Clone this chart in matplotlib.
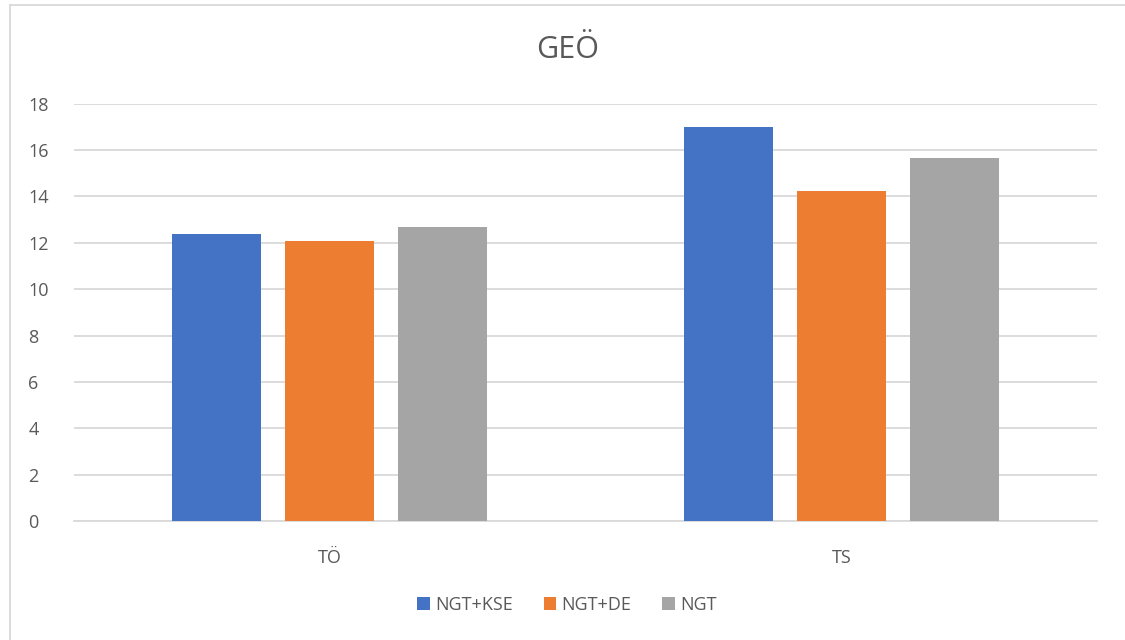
import matplotlib.pyplot as plt
from matplotlib.lines import Line2D
import numpy as np

# Werte je Gruppe
kategorien = ["TÖ", "TS"]
reihen = ["NGT+KSE", "NGT+DE", "NGT"]
ngt_kse = [12.4, 17.0]
ngt_de = [12.07, 14.25]
ngt = [12.67, 15.66]
farben = ["#4472C4", "#ED7D31", "#A5A5A5"]
y_ticks = [0, 2, 4, 6, 8, 10, 12, 14, 16, 18]

plt.rcParams['font.family'] = ['Open Sans', 'DejaVu Sans']
textfarbe = "#595959"

fig = plt.figure(figsize=(11.25, 6.4), dpi=100)
ax = fig.add_axes([74 / 1125, 1 - 521.3 / 640, (1097 - 74) / 1125, (521.3 - 103.7) / 640])

x = np.arange(len(kategorien))
breite = 0.174
abstand = 0.221
for i, (name, werte) in enumerate(zip(reihen, [ngt_kse, ngt_de, ngt])):
    ax.bar(x + (i - 1) * abstand, werte, breite, color=farben[i], label=name, zorder=3)

ax.set_xlim(-0.5, 1.5)
ax.set_ylim(0, 18)
ax.set_yticks(y_ticks)
ax.set_xticks(x)
ax.set_xticklabels(kategorien)
ax.yaxis.grid(True, color="#D9D9D9", linewidth=1.3, zorder=0)
ax.tick_params(axis="both", length=0, labelsize=13, colors=textfarbe)
ax.tick_params(axis="x", pad=20)
ax.tick_params(axis="y", pad=33)
for lbl in ax.get_yticklabels():
    lbl.set_horizontalalignment("left")
for s in ["top", "right", "left"]:
    ax.spines[s].set_visible(False)
ax.spines["bottom"].set_color("#D9D9D9")
ax.spines["bottom"].set_linewidth(1.3)

fig.text(568 / 1125, 1 - 50 / 640, "GEÖ", ha="center", va="center", fontsize=22, color=textfarbe)

fig.legend(loc="center", bbox_to_anchor=(567 / 1125, 1 - 605 / 640), ncol=3, frameon=False,
           fontsize=13, labelcolor=textfarbe, handlelength=0.7, handleheight=0.7,
           handletextpad=0.3, columnspacing=1.7)

# Rahmen oben und links
fig.add_artist(Line2D([9.5 / 1125, 1], [1 - 4.5 / 640, 1 - 4.5 / 640], color="#D9D9D9", linewidth=1.3))
fig.add_artist(Line2D([9.5 / 1125, 9.5 / 1125], [0, 1 - 4.5 / 640], color="#D9D9D9", linewidth=1.3))

fig.savefig("out.png", dpi=100, facecolor="white")
